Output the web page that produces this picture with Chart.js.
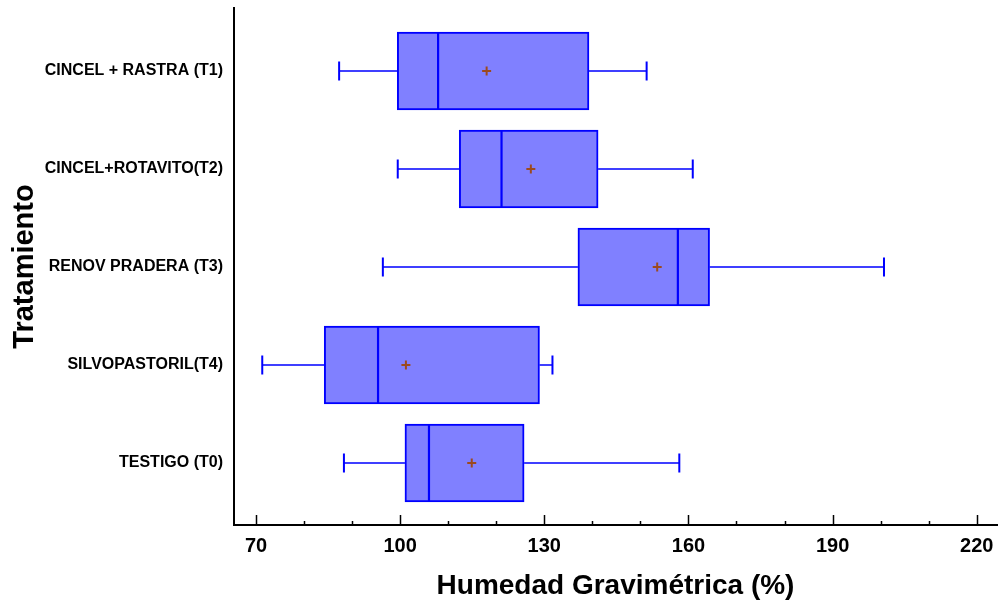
<!DOCTYPE html>
<html>
<head>
<meta charset="utf-8">
<script src="https://cdn.jsdelivr.net/npm/chart.js@4"></script>
<style>
  html, body { margin: 0; padding: 0; background: #fff; overflow: hidden; }
  #wrap { width: 998px; height: 603px; position: relative; }
  canvas { display: block; }
</style>
</head>
<body>
<div id="wrap"><canvas id="boxChart"></canvas></div>
<script>
// Treatment names, top to bottom
const categories = ['CINCEL + RASTRA (T1)', 'CINCEL+ROTAVITO(T2)', 'RENOV PRADERA (T3)', 'SILVOPASTORIL(T4)', 'TESTIGO (T0)'];

// Box plot statistics (%)
const whiskerLow = [87.3, 99.5, 96.4, 71.3, 88.3];
const q1 = [99.4, 112.3, 137.0, 84.2, 101.0];
const median = [107.9, 121.1, 157.8, 95.4, 106.0];
const q3 = [139.3, 141.2, 164.4, 129.0, 125.8];
const whiskerHigh = [151.3, 160.9, 200.7, 131.7, 158.1];
const mean = [118.0, 127.2, 153.5, 101.2, 114.9];

// Axis ticks
const xTicks = [70, 80, 90, 100, 110, 120, 130, 140, 150, 160, 170, 180, 190, 200, 210, 220];
const xLabels = [70, 100, 130, 160, 190, 220];

const FONT = 'Arial, "Liberation Sans", sans-serif';
const BLUE = '#0000FF';

// Whiskers, caps and median lines drawn from the scales
const whiskerPlugin = {
    id: 'whiskers',
    afterDatasetsDraw(chart) {
        const ctx = chart.ctx;
        const xs = chart.scales.x;
        const ys = chart.scales.y;
        const boxes = chart.getDatasetMeta(0).data;
        const capHalf = 9.5;

        ctx.save();
        ctx.strokeStyle = BLUE;
        categories.forEach((c, i) => {
            const y = ys.getPixelForValue(i);
            const lo = xs.getPixelForValue(whiskerLow[i]);
            const a = xs.getPixelForValue(q1[i]);
            const b = xs.getPixelForValue(q3[i]);
            const hi = xs.getPixelForValue(whiskerHigh[i]);
            ctx.lineWidth = 1.6;
            ctx.beginPath();
            ctx.moveTo(lo, y); ctx.lineTo(a, y);
            ctx.moveTo(b, y); ctx.lineTo(hi, y);
            ctx.stroke();

            ctx.lineWidth = 2;
            ctx.beginPath();
            ctx.moveTo(lo, y - capHalf); ctx.lineTo(lo, y + capHalf);
            ctx.moveTo(hi, y - capHalf); ctx.lineTo(hi, y + capHalf);
            ctx.stroke();

            // median across the box
            const el = boxes[i];
            const half = el.height / 2;
            const m = xs.getPixelForValue(median[i]);
            ctx.lineWidth = 2.2;
            ctx.beginPath();
            ctx.moveTo(m, el.y - half + 1);
            ctx.lineTo(m, el.y + half - 1);
            ctx.stroke();
        });
        ctx.restore();
    }
};

// Inward ticks on the x axis (major every 30, minor every 10)
const innerTicksPlugin = {
    id: 'innerTicks',
    afterDraw(chart) {
        const ctx = chart.ctx;
        const xs = chart.scales.x;
        const bottom = chart.chartArea.bottom;
        ctx.save();
        ctx.strokeStyle = '#000';
        ctx.lineWidth = 1.5;
        xs.ticks.forEach(t => {
            const px = Math.round(xs.getPixelForValue(t.value)) + 0.5;
            const len = xLabels.includes(t.value) ? 10 : 4;
            ctx.beginPath();
            ctx.moveTo(px, bottom);
            ctx.lineTo(px, bottom - len);
            ctx.stroke();
        });
        ctx.restore();
    }
};

new Chart(document.getElementById('boxChart'), {
    type: 'bar',
    data: {
        datasets: [{
            type: 'bar',
            indexAxis: 'y',
            data: categories.map((c, i) => ({y: i, x: [q1[i], q3[i]]})),
            backgroundColor: '#8080FF',
            borderColor: BLUE,
            borderWidth: 2,
            borderSkipped: false,
            barThickness: 78,
            order: 2
        }, {
            type: 'line',
            data: categories.map((c, i) => ({x: mean[i], y: i})),
            showLine: false,
            pointStyle: 'cross',
            pointRadius: 4.5,
            pointBorderWidth: 2,
            pointBorderColor: '#9C4A1E',
            order: 1
        }]
    },
    options: {
        responsive: true,
        maintainAspectRatio: false,
        animation: false,
        layout: {autoPadding: false, padding: {left: 0, top: 8, right: 1, bottom: 0}},
        plugins: {
            legend: {display: false},
            tooltip: {enabled: false}
        },
        scales: {
            x: {
                type: 'linear',
                offset: false,
                min: 65.42,
                max: 224.22,
                afterBuildTicks: scale => {
                    scale.ticks = xTicks.map(v => ({value: v}));
                },
                afterFit: scale => {
                    scale.height = 78;
                    scale.paddingLeft = 0;
                    scale.paddingRight = 0;
                },
                ticks: {
                    autoSkip: false,
                    maxRotation: 0,
                    padding: 9,
                    color: '#000',
                    font: {family: FONT, size: 20, weight: 'bold'},
                    callback: v => xLabels.includes(v) ? String(v) : ''
                },
                grid: {display: false, drawTicks: false},
                border: {display: true, color: '#000', width: 2},
                title: {
                    display: true,
                    text: 'Humedad Gravimétrica (%)',
                    color: '#000',
                    font: {family: FONT, size: 28, weight: 'bold'},
                    padding: {top: 0, bottom: 0}
                }
            },
            y: {
                type: 'linear',
                offset: false,
                reverse: true,
                min: -0.643,
                max: 4.633,
                afterBuildTicks: scale => {
                    scale.ticks = categories.map((c, i) => ({value: i}));
                },
                afterFit: scale => {
                    scale.width = 234;
                    scale.paddingTop = 0;
                    scale.paddingBottom = 0;
                },
                ticks: {
                    autoSkip: false,
                    padding: 11,
                    color: '#000',
                    font: {family: FONT, size: 16, weight: 'bold'},
                    callback: v => categories[v]
                },
                grid: {display: false, drawTicks: false},
                border: {display: true, color: '#000', width: 2},
                title: {
                    display: true,
                    text: 'Tratamiento',
                    color: '#000',
                    font: {family: FONT, size: 29, weight: 'bold'},
                    padding: {top: 8, bottom: 0}
                }
            }
        }
    },
    plugins: [whiskerPlugin, innerTicksPlugin]
});
</script>
</body>
</html>
